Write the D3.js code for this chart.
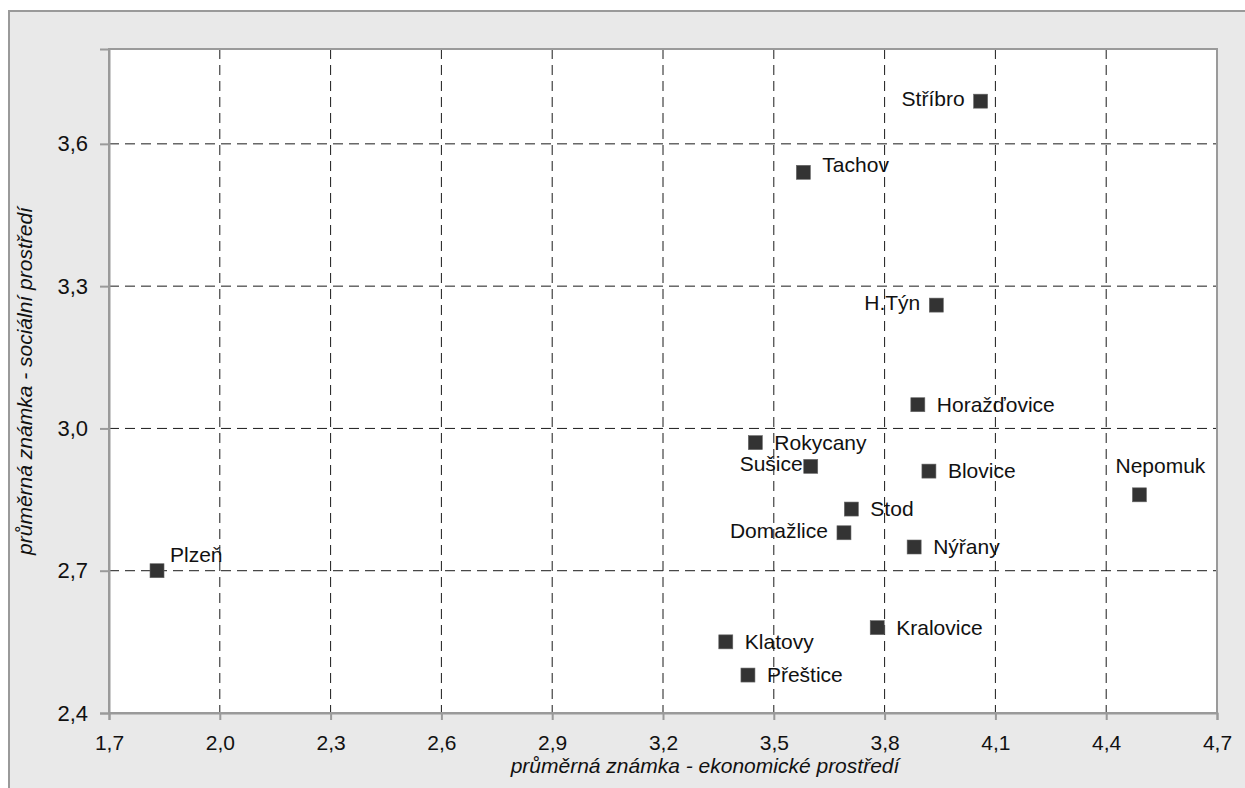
<!DOCTYPE html>
<html>
<head>
<meta charset="utf-8">
<script src="https://cdn.jsdelivr.net/npm/d3@7"></script>
<style>
body { margin: 0; background: #fff; }
svg { display: block; font-family: "Liberation Sans", Arial, sans-serif; }
</style>
</head>
<body>
<div id="chart"></div>
<script>
var towns = ['Plzeň','Rokycany','Sušice','Blovice','Stod','Domažlice','Nýřany','Kralovice',
             'Klatovy','Přeštice','Horažďovice','Stříbro','Tachov','H.Týn','Nepomuk'];
var econ   = [1.83, 3.45, 3.60, 3.92, 3.71, 3.69, 3.88, 3.78, 3.37, 3.43, 3.89, 4.06, 3.58, 3.94, 4.49];
var social = [2.70, 2.97, 2.92, 2.91, 2.83, 2.78, 2.75, 2.58, 2.55, 2.48, 3.05, 3.69, 3.54, 3.26, 2.86];
var labelSide = ['aboveRight','right','leftNear','right','right','left','right','right',
                 'right','right','right','left','rightUp','left','above'];
var xTicks = [1.7, 2.0, 2.3, 2.6, 2.9, 3.2, 3.5, 3.8, 4.1, 4.4, 4.7];
var yTicks = [2.4, 2.7, 3.0, 3.3, 3.6];
var xTitle = 'průměrná známka - ekonomické prostředí';
var yTitle = 'průměrná známka - sociální prostředí';

var W = 1245, H = 788;
var plotL = 109, plotR = 1217, plotT = 49, plotB = 713;

var svg = d3.select('#chart').append('svg')
    .attr('width', W)
    .attr('height', H);

// outer chart area, runs past the picture edge
svg.append('rect')
    .attr('x', 9).attr('y', 11)
    .attr('width', 1400).attr('height', 900)
    .attr('fill', '#e9e9e9')
    .attr('stroke', '#9a9a9a')
    .attr('stroke-width', 2);

var x = d3.scaleLinear().domain([1.7, 4.7]).range([plotL, plotR]);
var y = d3.scaleLinear().domain([2.4, 3.8]).range([plotB, plotT]);

var fmt = function(d){ return d3.format('.1f')(d).replace('.', ','); };

svg.append('rect')
    .attr('x', plotL).attr('y', plotT)
    .attr('width', plotR - plotL).attr('height', plotB - plotT)
    .attr('fill', '#fff');

// grid
svg.append('g')
    .selectAll('line')
    .data(xTicks.slice(1, -1))
    .enter().append('line')
    .attr('x1', function(d){ return x(d); })
    .attr('x2', function(d){ return x(d); })
    .attr('y1', plotT).attr('y2', plotB)
    .attr('stroke', '#1a1a1a').attr('stroke-dasharray', '10,6');

svg.append('g')
    .selectAll('line')
    .data(yTicks.slice(1))
    .enter().append('line')
    .attr('y1', function(d){ return y(d); })
    .attr('y2', function(d){ return y(d); })
    .attr('x1', plotL).attr('x2', plotR)
    .attr('stroke', '#1a1a1a').attr('stroke-dasharray', '10,6');

svg.append('rect')
    .attr('x', plotL).attr('y', plotT)
    .attr('width', plotR - plotL).attr('height', plotB - plotT)
    .attr('fill', 'none')
    .attr('stroke', '#9a9a9a')
    .attr('stroke-width', 2);

var xAxis = svg.append('g')
    .attr('transform', 'translate(0,' + plotB + ')')
    .call(d3.axisBottom(x).tickValues(xTicks).tickFormat(fmt).tickSize(7).tickPadding(15));

var yAxis = svg.append('g')
    .attr('transform', 'translate(' + plotL + ',0)')
    .call(d3.axisLeft(y).tickValues(yTicks).tickFormat(fmt).tickSize(9).tickPadding(12));

[xAxis, yAxis].forEach(function(a){
    a.select('.domain').attr('stroke', '#9a9a9a').attr('stroke-width', 2);
    a.selectAll('.tick line').attr('stroke', '#9a9a9a').attr('stroke-width', 2);
    a.selectAll('.tick text')
        .attr('fill', '#111')
        .style('font-size', '21px')
        .style('font-family', '"Liberation Sans", Arial, sans-serif');
});
yAxis.selectAll('.tick text').style('font-size', '22px');

// axis titles
svg.append('text')
    .attr('x', 705).attr('y', 773)
    .attr('text-anchor', 'middle')
    .style('font-size', '21px').style('font-style', 'italic')
    .attr('fill', '#111')
    .text(xTitle);

svg.append('text')
    .attr('transform', 'translate(32,' + ((plotT + plotB) / 2) + ') rotate(-90)')
    .attr('text-anchor', 'middle')
    .style('font-size', '21px').style('font-style', 'italic')
    .attr('fill', '#111')
    .text(yTitle);

// points
var pts = towns.map(function(t, i){
    return { name: t, ex: econ[i], so: social[i], side: labelSide[i] };
});

var place = {
    right:      { dx: 19,  dy: 7,   anchor: 'start' },
    rightUp:    { dx: 19,  dy: 0,   anchor: 'start' },
    left:       { dx: -16, dy: 5,   anchor: 'end' },
    leftNear:   { dx: -8,  dy: 5,   anchor: 'end' },
    above:      { dx: 21,  dy: -22, anchor: 'middle' },
    aboveRight: { dx: 13,  dy: -9,  anchor: 'start' }
};

var m = 14;
svg.append('g')
    .selectAll('rect')
    .data(pts)
    .enter().append('rect')
    .attr('x', function(d){ return x(d.ex) - m / 2; })
    .attr('y', function(d){ return y(d.so) - m / 2; })
    .attr('width', m).attr('height', m)
    .attr('fill', '#333')
    .attr('stroke', '#666').attr('stroke-width', 0.6);

svg.append('g')
    .selectAll('text')
    .data(pts)
    .enter().append('text')
    .attr('x', function(d){ return x(d.ex) + place[d.side].dx; })
    .attr('y', function(d){ return y(d.so) + place[d.side].dy; })
    .attr('text-anchor', function(d){ return place[d.side].anchor; })
    .style('font-size', '21px')
    .attr('fill', '#111')
    .text(function(d){ return d.name; });
</script>
</body>
</html>
